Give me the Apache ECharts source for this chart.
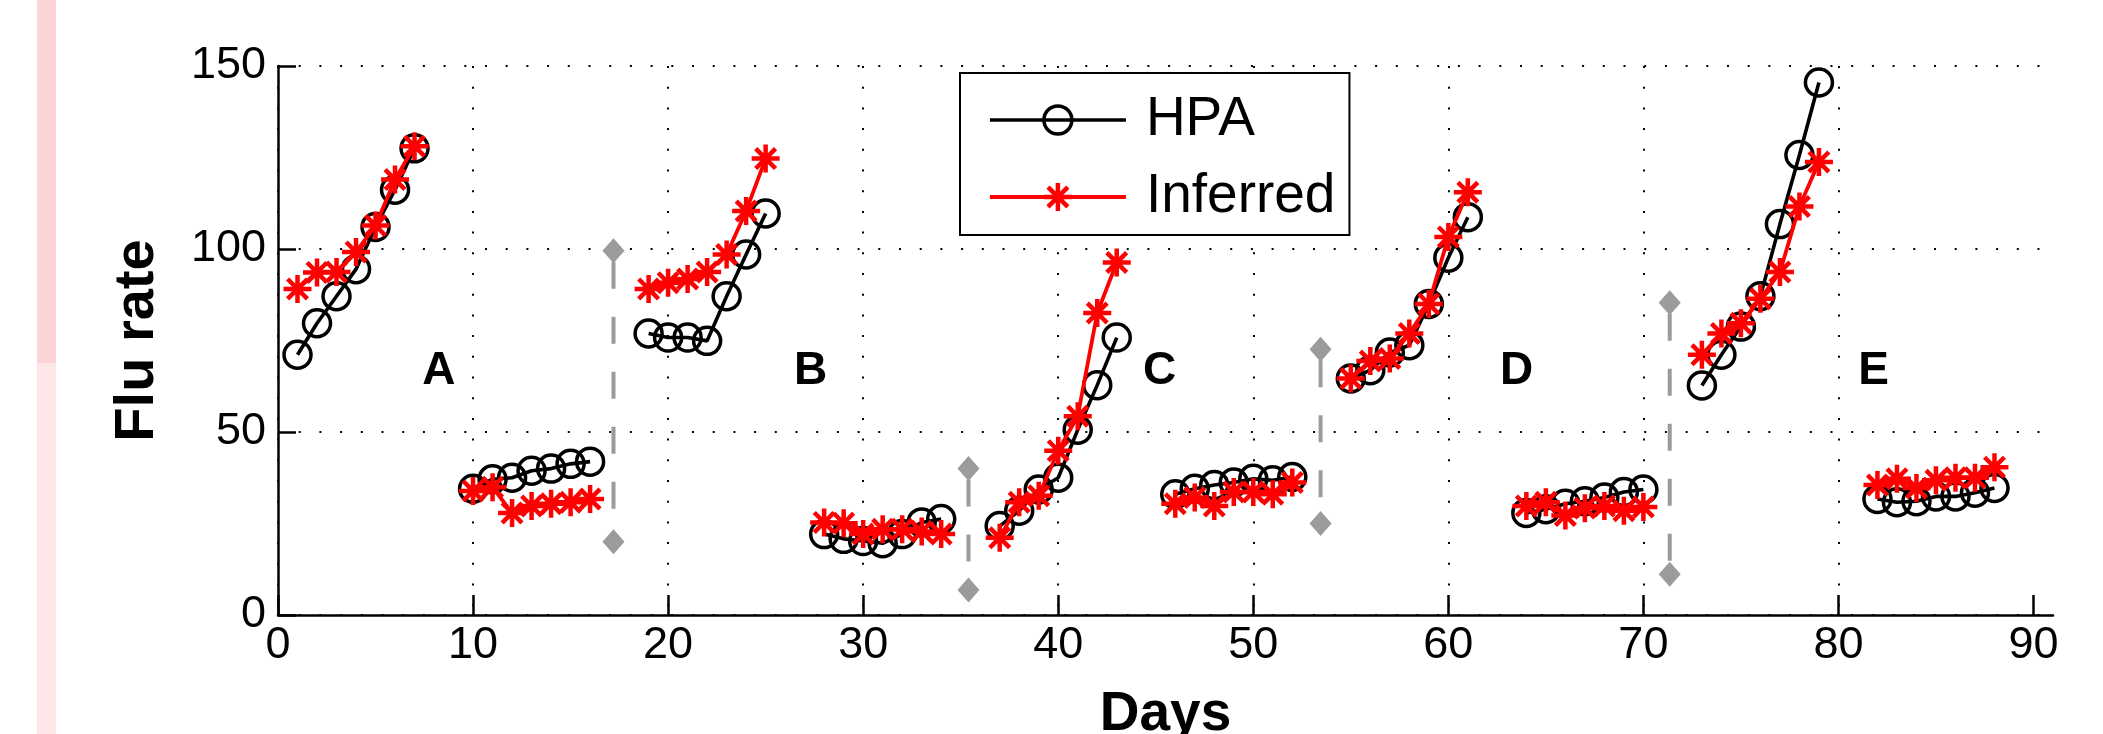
<!DOCTYPE html>
<html>
<head>
<meta charset="utf-8">
<script src="https://cdn.jsdelivr.net/npm/echarts@6/dist/echarts.min.js"></script>
<style>
html,body{margin:0;padding:0;background:#fff;}
#chart{width:2103px;height:734px;}
</style>
</head>
<body>
<div id="chart"></div>
<script>
// ---- data ----
const days = [1,2,3,4,5,6,7, 10,11,12,13,14,15,16, 19,20,21,22,23,24,25, 28,29,30,31,32,33,34,
  37,38,39,40,41,42,43, 46,47,48,49,50,51,52, 55,56,57,58,59,60,61, 64,65,66,67,68,69,70,
  73,74,75,76,77,78,79, 82,83,84,85,86,87,88];
const hpa = [71.1,79.7,87.1,94.5,106.0,116.2,127.5,
  34.5,37.1,37.5,39.4,40.0,41.3,41.9,
  76.9,75.8,75.8,74.9,87.1,98.5,109.7,
  22.1,20.8,20.2,19.6,22.1,25.3,26.2,
  24.3,28.5,34.3,37.5,50.6,62.8,75.8,
  33.0,34.5,35.5,36.2,37.2,36.8,37.7,
  64.6,66.9,71.7,73.7,85.0,97.6,108.7,
  27.9,28.9,30.4,31.1,32.1,33.6,34.3,
  62.7,71.1,78.8,87.1,106.8,125.7,145.5,
  31.7,30.8,31.1,32.4,32.4,33.4,34.7];
const inferred = [89.1,93.6,93.7,99.2,106.4,119.0,128.1,
  33.9,34.9,27.9,29.8,30.4,30.8,31.7,
  89.1,90.8,91.8,93.7,98.5,110.4,124.7,
  25.3,25.1,22.1,23.4,23.4,22.8,22.1,
  21.1,30.8,32.6,44.9,54.3,82.5,96.3,
  30.4,32.1,29.8,33.6,33.6,33.0,36.2,
  64.6,69.4,70.1,76.9,85.0,103.3,115.5,
  29.8,30.8,27.2,29.2,29.8,28.5,29.5,
  71.1,76.9,79.7,86.4,93.7,111.6,123.8,
  35.5,37.2,34.7,36.8,37.5,37.5,40.4];
// gray dashed separators: day, top value, bottom value
const sepDays = [17.2, 35.4, 53.45, 71.35];
const sepTop = [99.5, 40.0, 72.6, 85.3];
const sepBottom = [20.0, 6.8, 25.0, 11.1];
// panel letters
const letterNames = ['A','B','C','D','E'];
const letterDays = [8.25, 27.3, 45.2, 63.5, 81.8];
const letterVals = [66.6, 66.6, 66.6, 66.6, 66.6];
// ticks
const xTicks = [0,10,20,30,40,50,60,70,80,90];
const yTicks = [0,50,100,150];

// ---- build series data (break lines between consecutive-day runs) ----
function buildLine(vals) {
  const out = [];
  for (let i = 0; i < days.length; i++) {
    if (i > 0 && days[i] !== days[i-1] + 1) out.push('-');
    out.push([days[i], vals[i]]);
  }
  return out;
}

const FONT = 'Liberation Sans, Arial, Helvetica, sans-serif';
const GRAY = '#9b9b9b';
const asterisk = 'path://M0,-1L0,1M-1,0L1,0M-0.7071,-0.7071L0.7071,0.7071M-0.7071,0.7071L0.7071,-0.7071';

const hpaLine = {color: '#000', width: 3.6};
const hpaItem = {color: 'rgba(0,0,0,0)', borderColor: '#000', borderWidth: 3.5, opacity: 1};
const infLine = {color: '#ff0000', width: 3.8};
const infItem = {color: '#ff0000', borderColor: '#ff0000', borderWidth: 4.5, opacity: 1};

const series = [];
sepDays.forEach((d, i) => {
  series.push({
    name: 'sep' + i, type: 'line', silent: true, z: 1,
    data: [[d, sepTop[i]], [d, sepBottom[i]]],
    symbol: 'diamond', symbolSize: [22, 25],
    itemStyle: {color: GRAY},
    lineStyle: {color: GRAY, width: 4, type: [27, 28], dashOffset: 44}
  });
});
series.push({
  name: 'HPA', type: 'line', z: 3,
  data: buildLine(hpa),
  symbol: 'circle', symbolSize: 27, connectNulls: false,
  lineStyle: hpaLine, itemStyle: hpaItem
});
series.push({
  name: 'Inferred', type: 'line', z: 4,
  data: buildLine(inferred),
  symbol: asterisk, symbolSize: 28, connectNulls: false,
  lineStyle: infLine, itemStyle: infItem
});
series.push({
  name: 'letters', type: 'scatter', silent: true, z: 5,
  data: letterNames.map((n, i) => [letterDays[i], letterVals[i], n]),
  symbol: 'circle', symbolSize: 1,
  itemStyle: {color: 'rgba(0,0,0,0)', opacity: 1},
  label: {show: true, position: 'inside', formatter: p => p.data[2], opacity: 1,
    fontFamily: FONT, fontWeight: 'bold', fontSize: 46, color: '#000'}
});

const chart = echarts.init(document.getElementById('chart'), null, {renderer: 'canvas'});
chart.setOption({
  animation: false,
  backgroundColor: '#fff',
  textStyle: {fontFamily: FONT},
  graphic: [
    {type: 'rect', left: 37, top: 0, shape: {width: 19, height: 363}, style: {fill: '#fcd4d7'}, silent: true},
    {type: 'rect', left: 37, top: 363, shape: {width: 19, height: 371}, style: {fill: '#fde7e8'}, silent: true}
  ],
  grid: {left: 278, top: 66, right: 50, bottom: 119, containLabel: false, outerBoundsMode: 'none'},
  legend: {
    data: [
      {name: 'HPA', lineStyle: hpaLine, itemStyle: hpaItem},
      {name: 'Inferred', lineStyle: infLine, itemStyle: infItem}
    ],
    orient: 'vertical', left: 960, top: 73,
    itemWidth: 136, itemHeight: 35, itemGap: 17,
    padding: [17, 14, 8, 28],
    backgroundColor: '#fff', borderColor: '#000', borderWidth: 2, borderRadius: 0,
    selectedMode: false,
    textStyle: {fontFamily: FONT, fontSize: 55, color: '#000', lineHeight: 60, padding: [0, 0, 0, 15]}
  },
  xAxis: {
    type: 'value', min: 0, max: 91, interval: 10,
    name: 'Days', nameLocation: 'middle', nameGap: 72,
    nameTextStyle: {fontFamily: FONT, fontWeight: 'bold', fontSize: 55, color: '#000'},
    axisLine: {show: true, onZero: false, lineStyle: {color: '#000', width: 2.5}},
    axisTick: {show: true, inside: true, length: 20, customValues: xTicks, lineStyle: {color: '#000', width: 2.5}},
    axisLabel: {show: true, customValues: xTicks, margin: 8, fontFamily: FONT, fontSize: 45, color: '#000'},
    splitLine: {show: true, showMaxLine: false, lineStyle: {color: '#000', width: 2, type: [2, 18.7]}}
  },
  yAxis: {
    type: 'value', min: 0, max: 150, interval: 50,
    name: 'Flu rate', nameLocation: 'middle', nameGap: 112,
    nameTextStyle: {fontFamily: FONT, fontWeight: 'bold', fontSize: 56, color: '#000'},
    axisLine: {show: true, onZero: false, lineStyle: {color: '#000', width: 2.5}},
    axisTick: {show: true, inside: true, length: 18, customValues: yTicks, lineStyle: {color: '#000', width: 2.5}},
    axisLabel: {show: true, customValues: yTicks, margin: 12, fontFamily: FONT, fontSize: 45, color: '#000'},
    splitLine: {show: true, lineStyle: {color: '#000', width: 2, type: [2, 18.7]}}
  },
  series: series
});
</script>
</body>
</html>
